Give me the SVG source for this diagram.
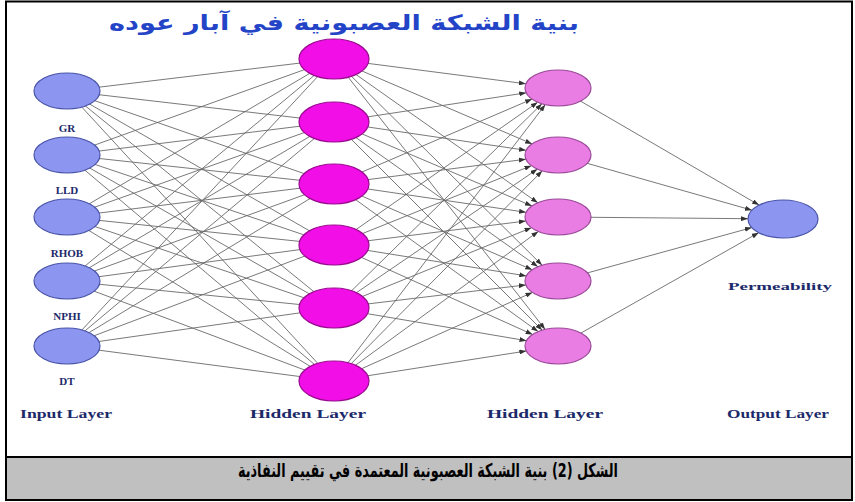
<svg xmlns="http://www.w3.org/2000/svg" width="855" height="502" viewBox="0 0 855 502">
<style>
.ln{stroke:#6a6a6a;stroke-width:0.9;fill:none}
.ar{stroke:#6a6a6a;stroke-width:0.9;fill:none;marker-end:url(#ah)}
.inp{fill:#8c96f0;stroke:#4a55a8;stroke-width:1.2}
.h1{fill:#f20ee6;stroke:#9a0a90;stroke-width:1.2}
.h2{fill:#e97de3;stroke:#9a4a98;stroke-width:1.2}
.lbl{font-family:"Liberation Serif","DejaVu Serif",serif;font-weight:bold;font-size:11px;fill:#1c2a6a;text-anchor:middle}
.lay{font-family:"Liberation Serif","DejaVu Serif",serif;font-weight:bold;font-size:12px;fill:#1c2a6a;text-anchor:middle}
</style>
<defs>
<marker id="ah" markerUnits="userSpaceOnUse" markerWidth="7" markerHeight="5" refX="7" refY="2.5" orient="auto">
<path d="M0,0 L7,2.5 L0,5 z" fill="#333"/>
</marker>
</defs>
<rect x="0" y="0" width="855" height="502" fill="#ffffff"/>
<rect x="6" y="457" width="846" height="43" fill="#c0c0c0"/>
<rect x="6" y="1.5" width="846" height="498.5" fill="none" stroke="#000" stroke-width="2"/>
<line x1="6" y1="457" x2="852" y2="457" stroke="#000" stroke-width="2"/>

<text x="344" y="30" direction="rtl" text-anchor="middle" font-family="DejaVu Sans, Noto Sans, sans-serif" font-weight="bold" font-size="21" fill="#2444c8" textLength="470" lengthAdjust="spacingAndGlyphs">بنية الشبكة العصبونية في آبار عوده</text>

<g id="connectors">
<g id="in-h1">
<line class="ln" x1="67" y1="91" x2="334" y2="59"/><line class="ln" x1="67" y1="91" x2="334" y2="122"/><line class="ln" x1="67" y1="91" x2="334" y2="184"/><line class="ln" x1="67" y1="91" x2="334" y2="245"/><line class="ln" x1="67" y1="91" x2="334" y2="308"/><line class="ln" x1="67" y1="91" x2="334" y2="381"/>
<line class="ln" x1="67" y1="155" x2="334" y2="59"/><line class="ln" x1="67" y1="155" x2="334" y2="122"/><line class="ln" x1="67" y1="155" x2="334" y2="184"/><line class="ln" x1="67" y1="155" x2="334" y2="245"/><line class="ln" x1="67" y1="155" x2="334" y2="308"/><line class="ln" x1="67" y1="155" x2="334" y2="381"/>
<line class="ln" x1="67" y1="217" x2="334" y2="59"/><line class="ln" x1="67" y1="217" x2="334" y2="122"/><line class="ln" x1="67" y1="217" x2="334" y2="184"/><line class="ln" x1="67" y1="217" x2="334" y2="245"/><line class="ln" x1="67" y1="217" x2="334" y2="308"/><line class="ln" x1="67" y1="217" x2="334" y2="381"/>
<line class="ln" x1="67" y1="281" x2="334" y2="59"/><line class="ln" x1="67" y1="281" x2="334" y2="122"/><line class="ln" x1="67" y1="281" x2="334" y2="184"/><line class="ln" x1="67" y1="281" x2="334" y2="245"/><line class="ln" x1="67" y1="281" x2="334" y2="308"/><line class="ln" x1="67" y1="281" x2="334" y2="381"/>
<line class="ln" x1="67" y1="346" x2="334" y2="59"/><line class="ln" x1="67" y1="346" x2="334" y2="122"/><line class="ln" x1="67" y1="346" x2="334" y2="184"/><line class="ln" x1="67" y1="346" x2="334" y2="245"/><line class="ln" x1="67" y1="346" x2="334" y2="308"/><line class="ln" x1="67" y1="346" x2="334" y2="381"/>
</g>
<g id="h1-h2">
<line class="ar" x1="334" y1="59" x2="525.9" y2="83.8"/><line class="ar" x1="334" y1="122" x2="526.2" y2="92.8"/><line class="ar" x1="334" y1="184" x2="532.1" y2="99.1"/><line class="ar" x1="334" y1="245" x2="537.7" y2="102.2"/><line class="ar" x1="334" y1="308" x2="542" y2="103.7"/><line class="ar" x1="334" y1="381" x2="545.3" y2="104.6"/>
<line class="ar" x1="334" y1="59" x2="532.1" y2="143.9"/><line class="ar" x1="334" y1="122" x2="526.1" y2="150.3"/><line class="ar" x1="334" y1="184" x2="525.9" y2="159.2"/><line class="ar" x1="334" y1="245" x2="531.4" y2="165.7"/><line class="ar" x1="334" y1="308" x2="537.4" y2="169.1"/><line class="ar" x1="334" y1="381" x2="542.3" y2="170.8"/>
<line class="ar" x1="334" y1="59" x2="537.8" y2="202.8"/><line class="ar" x1="334" y1="122" x2="532" y2="206"/><line class="ar" x1="334" y1="184" x2="526.1" y2="212.3"/><line class="ar" x1="334" y1="245" x2="525.8" y2="221"/><line class="ar" x1="334" y1="308" x2="531.5" y2="227.7"/><line class="ar" x1="334" y1="381" x2="538.3" y2="231.4"/>
<line class="ar" x1="334" y1="59" x2="542.1" y2="265.2"/><line class="ar" x1="334" y1="122" x2="537.9" y2="266.7"/><line class="ar" x1="334" y1="184" x2="532.2" y2="269.8"/><line class="ar" x1="334" y1="245" x2="526.3" y2="275.9"/><line class="ar" x1="334" y1="308" x2="525.8" y2="284.9"/><line class="ar" x1="334" y1="381" x2="532.5" y2="292.4"/>
<line class="ar" x1="334" y1="59" x2="545.1" y2="329.4"/><line class="ar" x1="334" y1="122" x2="542.2" y2="330.2"/><line class="ar" x1="334" y1="184" x2="538.1" y2="331.6"/><line class="ar" x1="334" y1="245" x2="532.6" y2="334.5"/><line class="ar" x1="334" y1="308" x2="526.5" y2="340.7"/><line class="ar" x1="334" y1="381" x2="526.3" y2="351"/>
</g>
<g id="h2-out">
<line class="ar" x1="558" y1="88" x2="759.1" y2="205.1"/><line class="ar" x1="558" y1="155" x2="752" y2="210.2"/><line class="ar" x1="558" y1="217" x2="748" y2="218.7"/><line class="ar" x1="558" y1="281" x2="751.8" y2="227.6"/><line class="ar" x1="558" y1="346" x2="758.7" y2="232.7"/>
</g>
</g>

<g id="in-gr"><ellipse class="inp" cx="67" cy="91" rx="33" ry="18"/><text class="lbl" x="67" y="132">GR</text></g>
<g id="in-lld"><ellipse class="inp" cx="67" cy="155" rx="33" ry="18"/><text class="lbl" x="67" y="194">LLD</text></g>
<g id="in-rhob"><ellipse class="inp" cx="67" cy="217" rx="33" ry="18"/><text class="lbl" x="67" y="257">RHOB</text></g>
<g id="in-nphi"><ellipse class="inp" cx="67" cy="281" rx="33" ry="18"/><text class="lbl" x="67" y="320">NPHI</text></g>
<g id="in-dt"><ellipse class="inp" cx="67" cy="346" rx="33" ry="18"/><text class="lbl" x="67" y="385">DT</text></g>

<g id="h1-1"><ellipse class="h1" cx="334" cy="59" rx="35" ry="20"/></g>
<g id="h1-2"><ellipse class="h1" cx="334" cy="122" rx="35" ry="20"/></g>
<g id="h1-3"><ellipse class="h1" cx="334" cy="184" rx="35" ry="20"/></g>
<g id="h1-4"><ellipse class="h1" cx="334" cy="245" rx="35" ry="20"/></g>
<g id="h1-5"><ellipse class="h1" cx="334" cy="308" rx="35" ry="20"/></g>
<g id="h1-6"><ellipse class="h1" cx="334" cy="381" rx="35" ry="20"/></g>

<g id="h2-1"><ellipse class="h2" cx="558" cy="88" rx="33" ry="18"/></g>
<g id="h2-2"><ellipse class="h2" cx="558" cy="155" rx="33" ry="18"/></g>
<g id="h2-3"><ellipse class="h2" cx="558" cy="217" rx="33" ry="18"/></g>
<g id="h2-4"><ellipse class="h2" cx="558" cy="281" rx="33" ry="18"/></g>
<g id="h2-5"><ellipse class="h2" cx="558" cy="346" rx="33" ry="18"/></g>

<g id="out"><ellipse class="inp" cx="783" cy="219" rx="35" ry="19"/><text class="lbl" x="780" y="290" textLength="104" lengthAdjust="spacingAndGlyphs">Permeability</text></g>

<g id="layer-labels">
<text class="lay" x="66" y="418" textLength="92" lengthAdjust="spacingAndGlyphs">Input Layer</text>
<text class="lay" x="308" y="418" textLength="116" lengthAdjust="spacingAndGlyphs">Hidden Layer</text>
<text class="lay" x="545" y="418" textLength="116" lengthAdjust="spacingAndGlyphs">Hidden Layer</text>
<text class="lay" x="778" y="418" textLength="102" lengthAdjust="spacingAndGlyphs">Output Layer</text>
</g>

<text x="428" y="477" direction="rtl" text-anchor="middle" font-family="DejaVu Sans, Noto Sans, sans-serif" font-weight="bold" font-size="19" fill="#000" textLength="380" lengthAdjust="spacingAndGlyphs">الشكل (2) بنية الشبكة العصبونية المعتمدة في تقييم النفاذية</text>
</svg>
